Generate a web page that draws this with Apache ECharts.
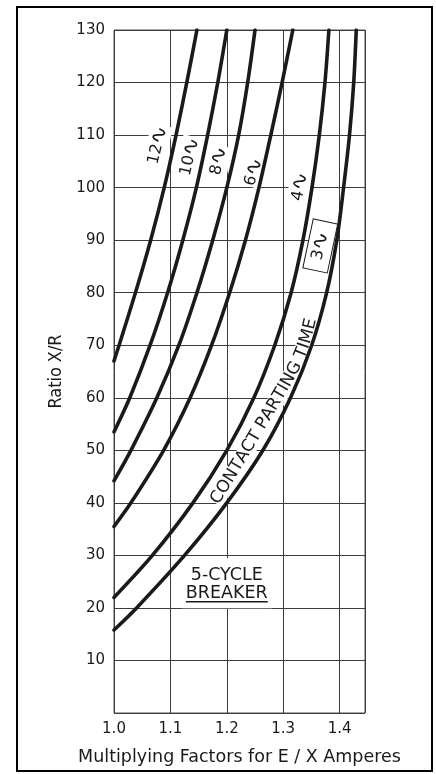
<!DOCTYPE html>
<html>
<head>
<meta charset="utf-8">
<title>Multiplying Factors for E / X Amperes</title>
<script src="https://cdn.jsdelivr.net/npm/echarts/dist/echarts.min.js"></script>
<style>
html,body{margin:0;padding:0;background:#ffffff;}
#chart{width:436px;height:774px;}
</style>
</head>
<body>
<div id="chart"></div>
<script>
// ---------- tick labels ----------
const factorTicks = ['1.0', '1.1', '1.2', '1.3', '1.4'];
const ratioTicks = ['10', '20', '30', '40', '50', '60', '70', '80', '90', '100', '110', '120', '130'];

// ---------- curves (contact parting time, cycles) ----------
const cycleNames = ['12', '10', '8', '6', '4', '3'];

const factor12 = [1.0, 1.009, 1.038, 1.065, 1.089, 1.110, 1.129, 1.147];
const ratio12  = [67, 70, 80, 90, 100, 110, 120, 130];

const factor10 = [1.0, 1.028, 1.064, 1.095, 1.122, 1.146, 1.166, 1.184, 1.200];
const ratio10  = [53.5, 60, 70, 80, 90, 100, 110, 120, 130];

const factor8 = [1.0, 1.030, 1.076, 1.115, 1.147, 1.175, 1.200, 1.221, 1.237, 1.250];
const ratio8  = [44.2, 50, 60, 70, 80, 90, 100, 110, 120, 130];

const factor6 = [1.0, 1.030, 1.088, 1.135, 1.173, 1.205, 1.233, 1.257, 1.278, 1.298, 1.317];
const ratio6  = [35.5, 40, 50, 60, 70, 80, 90, 100, 110, 120, 130];

const factor4 = [1.0, 1.068, 1.140, 1.200, 1.248, 1.285, 1.314, 1.335, 1.351, 1.364, 1.374, 1.381];
const ratio4  = [22, 30, 40, 50, 60, 70, 80, 90, 100, 110, 120, 130];

const factor3 = [1.0, 1.040, 1.125, 1.200, 1.264, 1.313, 1.3505, 1.377, 1.395, 1.407, 1.4175, 1.425, 1.4295];
const ratio3  = [15.8, 20, 30, 40, 50, 60, 70, 80, 90, 100, 110, 120, 130];

const curveFactors = [factor12, factor10, factor8, factor6, factor4, factor3];
const curveRatios  = [ratio12, ratio10, ratio8, ratio6, ratio4, ratio3];

// ---------- annotation texts ----------
const cycleMark = '\u223F';
const breakerLine1 = '5-CYCLE';
const breakerLine2 = 'BREAKER';
const partingText = 'CONTACT PARTING TIME';

// ---------- annotation placement (data coordinates) ----------
const cycleLabelAnchors = [[1.0774, 108.1], [1.1342, 105.9], [1.1854, 105.1], [1.2477, 103.0], [1.3295, 100.2]];
const cycleLabelAngles = [77, 77, 78, 74, 80];
const boxLabelAnchor = [1.3657, 88.9];
const boxLabelAngle = 78;
const breakerAnchor = [1.2, 24.7];
const partingPath = [[1.1841, 41.0], [1.25, 52.65], [1.3263, 66.9], [1.3525, 75.9]];

const FONT = "'DejaVu Sans', 'Liberation Sans', sans-serif";
const INK = '#1a1a1a';
const GRID = '#3c3c3c';

const chart = echarts.init(document.getElementById('chart'), null, {renderer: 'canvas'});

const measureCtx = document.createElement('canvas').getContext('2d');
function textWidth(str, font) { measureCtx.font = font; return measureCtx.measureText(str).width; }

// Fit the condensed y-axis title to its width in the reference
let yNameSize = 21;
const yNameFamily = "'Liberation Sans Narrow', 'DejaVu Sans Condensed', 'DejaVu Sans', sans-serif";
const wY = textWidth('Ratio X/R', yNameSize + 'px ' + yNameFamily);
if (wY > 0) yNameSize = Math.min(22, yNameSize * 74 / wY);

const series = cycleNames.map((name, i) => ({
  name: name,
  type: 'line',
  data: curveFactors[i].map((f, j) => [f, curveRatios[i][j]]),
  smooth: 0.3,
  showSymbol: false,
  symbol: 'none',
  silent: true,
  z: 3,
  lineStyle: {color: INK, width: 3.6, cap: 'round'}
}));

const option = {
  animation: false,
  backgroundColor: '#ffffff',
  grid: {left: 114, right: 71, top: 30, bottom: 61, show: true, borderColor: '#555', borderWidth: 1, backgroundColor: 'transparent'},
  xAxis: {
    type: 'value', min: 1.0, max: 1.445, interval: 0.1,
    axisLine: {show: false}, axisTick: {show: false},
    splitLine: {show: true, lineStyle: {color: GRID, width: 1}},
    axisLabel: {
      color: INK, fontFamily: FONT, fontSize: 15, margin: 9, showMaxLabel: false,
      formatter: v => { const s = v.toFixed(1); return (factorTicks.indexOf(s) >= 0 && Math.abs(v - parseFloat(s)) < 1e-6) ? s : ''; }
    },
    name: 'Multiplying Factors for E / X Amperes', nameLocation: 'middle', nameGap: 35,
    nameTextStyle: {color: INK, fontFamily: FONT, fontSize: 17.5}
  },
  yAxis: {
    type: 'value', min: 0, max: 130, interval: 10,
    axisLine: {show: false}, axisTick: {show: false},
    splitLine: {show: true, lineStyle: {color: GRID, width: 1}},
    axisLabel: {
      color: INK, fontFamily: FONT, fontSize: 15, margin: 9, showMinLabel: false,
      formatter: v => { const s = String(Math.round(v)); return (ratioTicks.indexOf(s) >= 0 && Math.abs(v - Math.round(v)) < 1e-6) ? s : ''; }
    },
    name: 'Ratio X/R', nameLocation: 'middle', nameRotate: 90, nameGap: 48,
    nameTextStyle: {color: INK, fontFamily: yNameFamily, fontSize: yNameSize}
  },
  series: series
};
chart.setOption(option);

function px(p) { return chart.convertToPixel({xAxisIndex: 0, yAxisIndex: 0}, p); }
const rad = d => d * Math.PI / 180;

const graphics = [];

// cycle labels
const labelFont = '16px ' + FONT;
const markRich = {m: {fontSize: 22, fontFamily: FONT, fill: INK, color: INK}};
cycleLabelAnchors.forEach((a, i) => {
  const p = px(a);
  graphics.push({
    type: 'text', x: p[0], y: p[1], rotation: rad(cycleLabelAngles[i]), z: 1, silent: true,
    style: {text: cycleNames[i] + '{m|' + cycleMark + '}', rich: markRich, font: labelFont, fill: INK,
      align: 'center', verticalAlign: 'middle', textAlign: 'center', textVerticalAlign: 'middle',
      backgroundColor: '#ffffff', padding: [0, 1]}
  });
});

// boxed 3~ label
(function () {
  const p = px(boxLabelAnchor);
  graphics.push({
    type: 'group', x: p[0], y: p[1], rotation: rad(boxLabelAngle), z: 1, silent: true,
    children: [
      {type: 'rect', z: 1, shape: {x: -25, y: -12.5, width: 50, height: 25}, style: {fill: '#ffffff', stroke: INK, lineWidth: 1}},
      {type: 'text', z: 2, style: {text: cycleNames[5] + '{m|' + cycleMark + '}', rich: markRich, font: labelFont, fill: INK,
        align: 'center', verticalAlign: 'middle', textAlign: 'center', textVerticalAlign: 'middle'}}
    ]
  });
})();

// 5-CYCLE BREAKER block
(function () {
  const p = px(breakerAnchor);
  const f = '17.5px ' + FONT;
  const w2 = textWidth(breakerLine2, f);
  graphics.push({
    type: 'group', x: p[0], y: p[1], z: 1, silent: true,
    children: [
      {type: 'rect', shape: {x: -45, y: -25, width: 90, height: 50}, style: {fill: '#ffffff'}},
      {type: 'text', y: -8, style: {text: breakerLine1, font: f, fill: INK, align: 'center', verticalAlign: 'middle', textAlign: 'center', textVerticalAlign: 'middle'}},
      {type: 'text', y: 10, style: {text: breakerLine2, font: f, fill: INK, align: 'center', verticalAlign: 'middle', textAlign: 'center', textVerticalAlign: 'middle'}},
      {type: 'line', shape: {x1: -w2 / 2, y1: 18.5, x2: w2 / 2, y2: 18.5}, style: {stroke: INK, lineWidth: 1.5}}
    ]
  });
})();

// curved "CONTACT PARTING TIME"
(function () {
  const pts = partingPath.map(px);
  const dense = [];
  for (let i = 0; i < pts.length - 1; i++) {
    const p0 = pts[Math.max(i - 1, 0)], p1 = pts[i], p2 = pts[i + 1], p3 = pts[Math.min(i + 2, pts.length - 1)];
    for (let k = 0; k < 40; k++) {
      const t = k / 40, t2 = t * t, t3 = t2 * t;
      const cr = (a, b, c, d) => 0.5 * ((2 * b) + (-a + c) * t + (2 * a - 5 * b + 4 * c - d) * t2 + (-a + 3 * b - 3 * c + d) * t3);
      dense.push([cr(p0[0], p1[0], p2[0], p3[0]), cr(p0[1], p1[1], p2[1], p3[1])]);
    }
  }
  dense.push(pts[pts.length - 1]);
  const cum = [0];
  for (let i = 1; i < dense.length; i++) cum.push(cum[i - 1] + Math.hypot(dense[i][0] - dense[i - 1][0], dense[i][1] - dense[i - 1][1]));
  const total = cum[cum.length - 1];
  function at(s) {
    if (s <= 0) {
      const d = [dense[1][0] - dense[0][0], dense[1][1] - dense[0][1]], l = Math.hypot(d[0], d[1]);
      return [dense[0][0] + d[0] / l * s, dense[0][1] + d[1] / l * s];
    }
    if (s >= total) {
      const n = dense.length - 1;
      const d = [dense[n][0] - dense[n - 1][0], dense[n][1] - dense[n - 1][1]], l = Math.hypot(d[0], d[1]);
      return [dense[n][0] + d[0] / l * (s - total), dense[n][1] + d[1] / l * (s - total)];
    }
    let i = 1; while (cum[i] < s) i++;
    const r = (s - cum[i - 1]) / (cum[i] - cum[i - 1]);
    return [dense[i - 1][0] + (dense[i][0] - dense[i - 1][0]) * r, dense[i - 1][1] + (dense[i][1] - dense[i - 1][1]) * r];
  }
  const f = '17px ' + FONT;
  const chars = partingText.split('');
  const widths = chars.map(c => textWidth(c, f));
  let s = 0;
  chars.forEach((c, i) => {
    if (i > 0) s += (widths[i - 1] + widths[i]) / 2;
    const p = at(s), a = at(s - 7), b = at(s + 7);
    const ang = Math.atan2(-(b[1] - a[1]), b[0] - a[0]);
    if (c === ' ') return;
    graphics.push({
      type: 'text', x: p[0], y: p[1], rotation: ang, z: 1, silent: true,
      style: {text: c, font: f, fill: INK, align: 'center', verticalAlign: 'middle', textAlign: 'center', textVerticalAlign: 'middle',
        backgroundColor: '#ffffff'}
    });
  });
})();

// outer frame
graphics.push({type: 'rect', z: 10, silent: true, shape: {x: 17, y: 7, width: 415, height: 764},
  style: {fill: 'none', stroke: '#000000', lineWidth: 2}});

chart.setOption({graphic: graphics});
</script>
</body>
</html>
